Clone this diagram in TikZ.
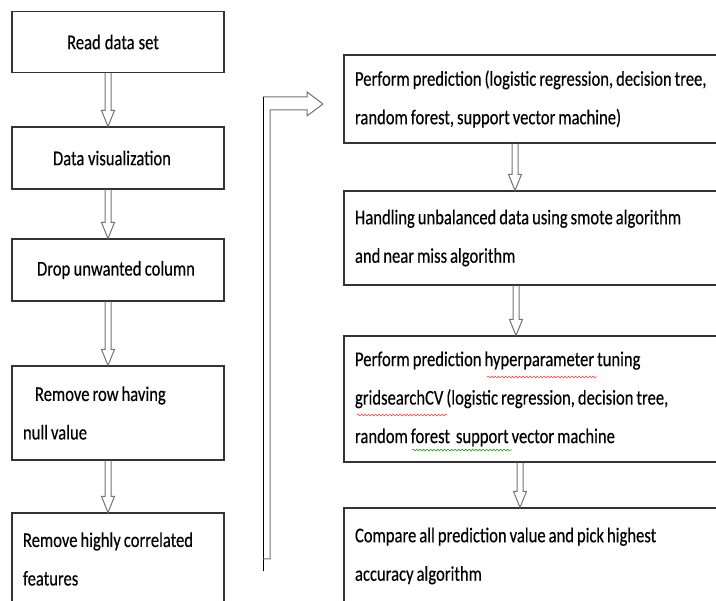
\documentclass[tikz,border=0pt]{standalone}
\usepackage{fontspec}
\setmainfont[FakeStretch=0.79, FakeBold=0.3]{Carlito}
\usetikzlibrary{calc,decorations.pathmorphing}
\tikzset{
  box/.style={draw=black!80, line width=1.1pt, rectangle, inner sep=0pt,
    font=\fontsize{21}{38.5}\selectfont, text=black,
    execute at begin node={\spaceskip=3pt plus 1pt minus 0.5pt\relax}},
  lbox/.style={box, minimum width=212pt, text width=190pt},
  rbox/.style={box, minimum width=396pt, text width=374pt, align=left},
  blk/.style={draw=black!55, line width=1pt, line join=miter},
  fbline/.style={draw=black!55, line width=1pt},
  spell/.style={decorate, decoration={snake, amplitude=0.8pt, segment length=3.5pt}, line width=0.5pt},
}
\newcommand\blkdown[3]{%
  \draw[blk] let \p1=(#1.south), \p2=(#2.north) in
    (#3pt-3pt,\y1) -- (#3pt-3pt,\y2+16pt) -- (#3pt-6.5pt,\y2+16pt) -- (#3pt,\y2)
    -- (#3pt+6.5pt,\y2+16pt) -- (#3pt+3pt,\y2+16pt) -- (#3pt+3pt,\y1);}
\begin{document}
\begin{tikzpicture}[x=1pt,y=-1pt]
\useasboundingbox (0,0) rectangle (716,601);
\clip (0,0) rectangle (716,601);
% left column
\node[lbox, align=center, minimum height=61pt] (l1) at (118,42) {Read data set\hspace*{10pt}};
\node[lbox, align=center, minimum height=62pt] (l2) at (118,158) {Data visualization\hspace*{12pt}};
\node[lbox, align=center, minimum height=62pt] (l3) at (118,270) {Drop unwanted column\hspace*{4pt}};
\node[lbox, align=left, minimum height=94pt] (l4) at (118,413) {\hspace*{12pt}Remove row having\\null value};
\node[lbox, align=left, minimum height=92pt] (l5) at (118,559) {Remove highly correlated\\features};
% right column
\node[rbox, minimum height=88pt] (r1) at (542,99) {Perform prediction (logistic regression, decision tree,\\random forest, support vector machine)};
\node[rbox, minimum height=94pt] (r2) at (542,238) {Handling unbalanced data using smote algorithm\\and near miss algorithm};
\node[rbox, minimum height=126pt] (r3) at (542,399) {Perform prediction hyperparameter tuning\\gridsearchCV (logistic regression, decision tree,\\random forest\ \ support vector machine};
\node[rbox, minimum height=96pt] (r4) at (542,556) {Compare all prediction value and pick highest\\accuracy algorithm};
% arrows
\blkdown{l1}{l2}{108}
\blkdown{l2}{l3}{108}
\blkdown{l3}{l4}{108}
\blkdown{l4}{l5}{108}
\blkdown{r1}{r2}{515}
\blkdown{r2}{r3}{516}
\blkdown{r3}{r4}{520}
% feedback connector
\coordinate (fbtip) at (323,104);
\coordinate (fbbot) at (263,571);
\draw[fbline] (fbtip) -- ++(-16,-12) -- ++(0,5) -- ++(-44,0);
\draw[black, line width=0.8pt] (fbbot) -- (fbbot |- 0,97);
\draw[fbline] (fbtip) -- ++(-16,12) -- ++(0,-6) -- ++(-37,0) -- ++(0,449) -- ++(-7,0);
% spell-check marks
\draw[spell, red!80] (487,377) -- (597,377);
\draw[spell, red!80] (357,415) -- (447,415);
\draw[spell, green!60!black] (412,450) -- (512,450);
\end{tikzpicture}
\end{document}
